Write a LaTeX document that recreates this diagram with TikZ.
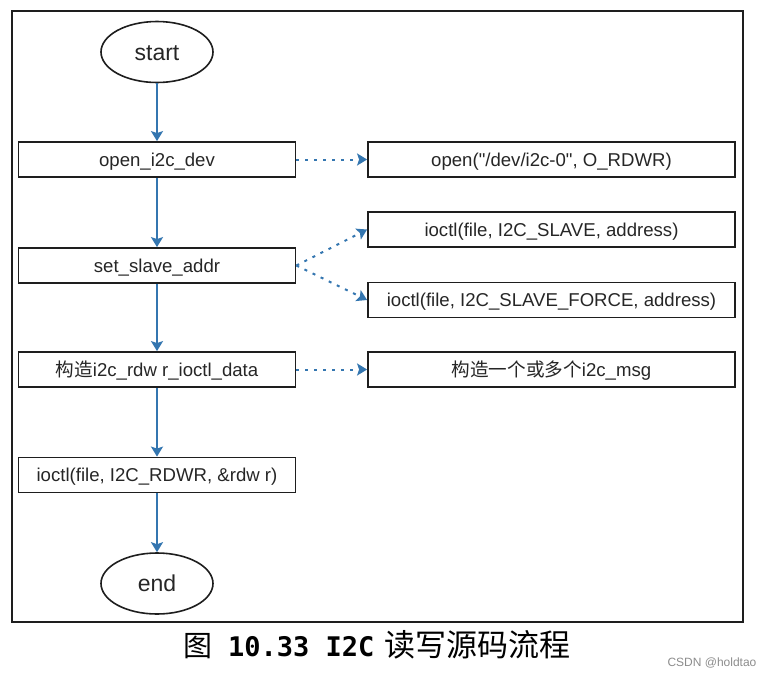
\documentclass[tikz,border=0pt]{standalone}
\usepackage{fontspec}
\setmainfont{Liberation Sans}[Ligatures=TeXOff]
\newfontfamily\cjk{Noto Sans CJK SC}
\newfontfamily\monob{DejaVu Sans Mono Bold}
\usetikzlibrary{arrows.meta,shapes.geometric}
\definecolor{arrowblue}{RGB}{52,118,176}
\definecolor{boxline}{RGB}{30,30,30}
\tikzset{
  fbox/.style={draw=boxline, line width=1.8pt, rectangle, minimum height=35pt, inner sep=0pt, text height=13.5pt, text depth=0pt, font=\fontsize{18.6}{18.6}\selectfont, text=black!85},
  lbox/.style={fbox, minimum width=277pt},
  rbox/.style={fbox, minimum width=367pt},
  term/.style={draw=boxline, line width=1.6pt, ellipse, minimum width=112pt, minimum height=61pt, inner sep=0pt, text height=16pt, text depth=0pt, font=\fontsize{23}{23}\selectfont, text=black!85},
  flow/.style={draw=arrowblue, line width=2pt, -{Stealth[length=10pt,width=12pt,inset=2pt]}},
  call/.style={draw=arrowblue, line width=2pt, dash pattern=on 3pt off 6pt, -{Stealth[length=10pt,width=12pt,inset=2pt]}}
}
\begin{document}
\begin{tikzpicture}[x=1pt,y=-1pt]
\useasboundingbox (0,0) rectangle (772,678);
\node[draw=boxline, line width=1.8pt, minimum width=731pt, minimum height=611pt, inner sep=0pt] (frame) at (377.5,316.5) {};
\node[term] (start) at (157,52) {start};
\node[lbox] (open) at (157,159.5) {open\_i2c\_dev};
\node[lbox] (slave) at (157,265.5) {set\_slave\_addr};
\node[lbox] (build) at (157,369.5) {{\cjk 构造}i2c\_rdw r\_ioctl\_data};
\node[lbox] (rdwr) at (157,475) {ioctl(file, I2C\_RDWR, \&rdw r)};
\node[term] (end) at (157,583.5) {end};
\node[rbox] (ropen) at (551.5,159.5) {open("/dev/i2c-0", O\_RDWR)};
\node[rbox] (rslave) at (551.5,229.5) {ioctl(file, I2C\_SLAVE, address)};
\node[rbox] (rforce) at (551.5,300) {ioctl(file, I2C\_SLAVE\_FORCE, address)};
\node[rbox] (rmsg) at (551.5,369.5) {{\cjk 构造一个或多个}i2c\_msg};
\draw[flow] (start) -- (open);
\draw[flow] (open) -- (slave);
\draw[flow] (slave) -- (build);
\draw[flow] (build) -- (rdwr);
\draw[flow] (rdwr) -- (end);
\draw[call] (open) -- (ropen);
\draw[call] (slave.east) -- (rslave.west);
\draw[call] (slave.east) -- (rforce.west);
\draw[call] (build) -- (rmsg);
\node[font=\fontsize{29}{29}\selectfont, anchor=west, inner sep=0pt] (caption) at (183,645) {{\cjk 图}\hspace{16pt}{\monob\fontsize{27}{27}\selectfont 10.33 I2C}\hspace{10pt}{\cjk\fontsize{31}{31}\selectfont 读写源码流程}};
\node[font=\fontsize{12}{12}\selectfont, text=black!45, anchor=center] (mark) at (712,663) {CSDN @holdtao};
\end{tikzpicture}
\end{document}
